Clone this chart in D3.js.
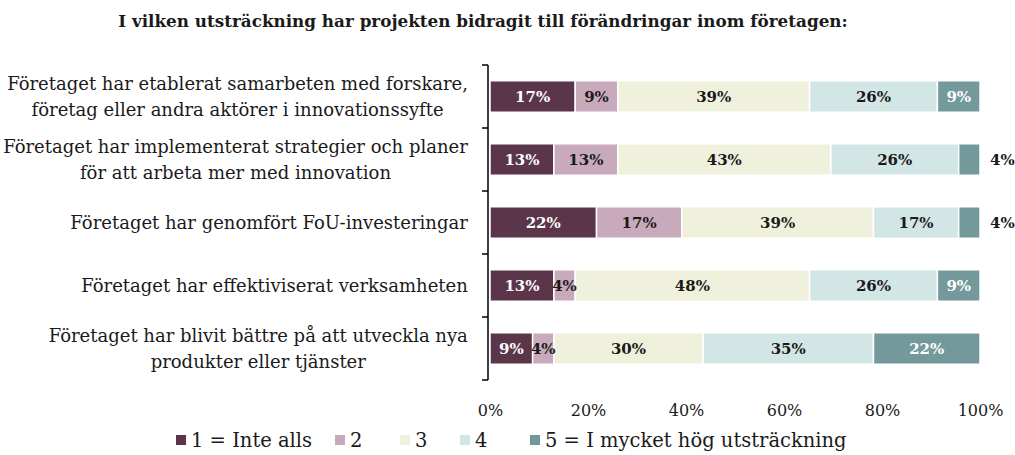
<!doctype html>
<html lang="sv">
<head>
  <meta charset="utf-8">
  <title>Bidrag till förändringar</title>
  <script src="https://d3js.org/d3.v7.min.js"></script>
  <style>
    html, body { margin: 0; padding: 0; background: #fff; }
    svg { display: block; }
    text { font-family: "Palatino Linotype", "Book Antiqua", Palatino, "DejaVu Serif", serif; fill: #1a1a1a; }
    .title { font-weight: bold; font-size: 16.8px; }
    .cat { font-size: 18px; }
    .val { font-weight: bold; font-size: 15px; }
    .tick text { font-size: 16px; }
    .legend text { font-size: 19.5px; }
  </style>
</head>
<body>
  <div id="chart"></div>
  <script>
    const title = "I vilken utsträckning har projekten bidragit till förändringar inom företagen:";
    const categories = [
      ["Företaget har etablerat samarbeten med forskare,", "företag eller andra aktörer i innovationssyfte"],
      ["Företaget har implementerat strategier och planer", "för att arbeta mer med innovation"],
      ["Företaget har genomfört FoU-investeringar"],
      ["Företaget har effektiviserat verksamheten"],
      ["Företaget har blivit bättre på att utveckla nya", "produkter eller tjänster"]
    ];
    const levels = ["1 = Inte alls", "2", "3", "4", "5 = I mycket hög utsträckning"];
    // percent per category, one array per answer level
    const level1 = [17.39, 13.04, 21.74, 13.04, 8.70];
    const level2 = [8.70, 13.04, 17.39, 4.35, 4.35];
    const level3 = [39.13, 43.48, 39.13, 47.83, 30.43];
    const level4 = [26.09, 26.09, 17.39, 26.09, 34.78];
    const level5 = [8.70, 4.35, 4.35, 8.70, 21.74];
    const xTicks = [0, 20, 40, 60, 80, 100];
    const colors = ["#5b3549", "#c9aabc", "#eff1dc", "#d3e6e6", "#74999a"];
    const labelColors = ["#fff", "#1a1a1a", "#1a1a1a", "#1a1a1a", "#fff"];

    const width = 1015, height = 455;
    const margin = { top: 65, right: 35, bottom: 75, left: 490 };

    const rows = categories.map((c, i) => ({
      idx: i,
      l0: level1[i], l1: level2[i], l2: level3[i], l3: level4[i], l4: level5[i]
    }));
    const keys = ["l0", "l1", "l2", "l3", "l4"];
    const stacked = d3.stack().keys(keys)(rows);

    const svg = d3.select('#chart').append('svg')
      .attr('width', width).attr('height', height);

    const x = d3.scaleLinear().domain([0, 100]).range([margin.left, width - margin.right]);
    const y = d3.scaleBand().domain(d3.range(categories.length))
      .range([margin.top, height - margin.bottom]).paddingInner(0.5).paddingOuter(0.25);

    svg.append('text').attr('class', 'title')
      .attr('x', 483).attr('y', 27).attr('text-anchor', 'middle').text(title);

    // bars
    const layer = svg.append('g').selectAll('g').data(stacked).join('g')
      .attr('fill', (d, i) => colors[i]);
    layer.selectAll('rect').data(d => d).join('rect')
      .attr('x', d => x(d[0]))
      .attr('y', d => y(d.data.idx))
      .attr('width', d => x(d[1]) - x(d[0]))
      .attr('height', y.bandwidth())
      .attr('stroke', '#fff').attr('stroke-width', 1.5);

    // value labels
    stacked.forEach((s, k) => {
      svg.append('g').selectAll('text').data(s).join('text')
        .attr('class', 'val')
        .each(function(d) {
          const v = d[1] - d[0];
          const outside = k === keys.length - 1 && v < 5;
          d3.select(this)
            .attr('x', outside ? x(d[1]) + 10 : (x(d[0]) + x(d[1])) / 2)
            .attr('text-anchor', outside ? 'start' : 'middle')
            .style('fill', outside ? '#1a1a1a' : labelColors[k]);
        })
        .attr('y', d => y(d.data.idx) + y.bandwidth() / 2)
        .attr('dy', '0.35em')
        .text(d => Math.round(d[1] - d[0]) + '%');
    });

    // y axis with boundary ticks
    const yAxis = svg.append('g');
    yAxis.append('line')
      .attr('x1', margin.left - 2).attr('x2', margin.left - 2)
      .attr('y1', margin.top).attr('y2', height - margin.bottom)
      .attr('stroke', '#000').attr('stroke-width', 1.5);
    const bounds = d3.range(categories.length + 1).map(i => margin.top + i * y.step());
    yAxis.selectAll('.yt').data(bounds).join('line')
      .attr('x1', margin.left - 8).attr('x2', margin.left - 2)
      .attr('y1', d => d).attr('y2', d => d)
      .attr('stroke', '#000').attr('stroke-width', 1.5);

    // category labels
    categories.forEach((lines, i) => {
      const cy = y(i) + y.bandwidth() / 2;
      const t = svg.append('text').attr('class', 'cat').attr('text-anchor', 'middle');
      const lh = 26;
      lines.forEach((ln, j) => {
        t.append('tspan').attr('x', 0)
          .attr('y', cy + (j - (lines.length - 1) / 2) * lh).attr('dy', '0.35em').text(ln);
      });
      // right-align the block, centre lines inside it
      const bw = t.node().getBBox().width;
      t.selectAll('tspan').attr('x', 468 - bw / 2);
    });

    // x axis (labels only)
    const xAxis = svg.append('g')
      .attr('transform', `translate(0,${height - margin.bottom + 22})`)
      .call(d3.axisBottom(x).tickValues(xTicks).tickFormat(d => d + '%').tickSize(0));
    xAxis.select('.domain').remove();
    xAxis.selectAll('text').attr('fill', '#1a1a1a');

    // legend
    const legendX = [176, 335, 400, 460, 530];
    const legend = svg.append('g').attr('class', 'legend');
    levels.forEach((lv, i) => {
      const g = legend.append('g').attr('transform', `translate(${legendX[i]},440)`);
      g.append('rect').attr('x', 0).attr('y', -5).attr('width', 10).attr('height', 10).attr('fill', colors[i]);
      g.append('text').attr('x', 15).attr('dy', '0.35em').text(lv);
    });
  </script>
</body>
</html>
